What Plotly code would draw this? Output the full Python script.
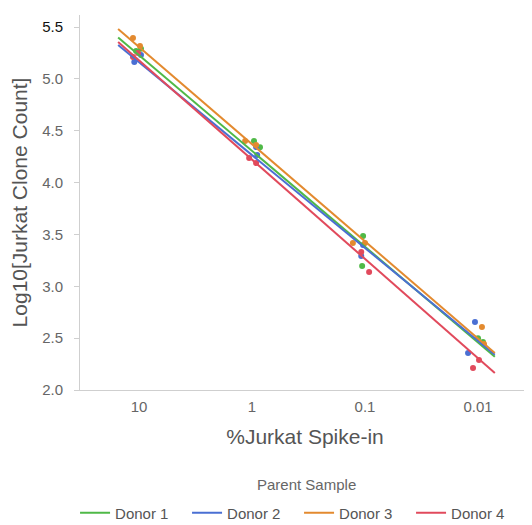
import plotly.graph_objects as go

# ---- data ----
donors = ["Donor 1", "Donor 2", "Donor 3", "Donor 4"]
colors = ["#4fb947", "#4a6fd3", "#e38a2f", "#e14a5c"]

# jittered spike-in % (x) and log10 clone counts (y) per donor
d1_x = [9.6, 10.6, 0.96, 0.85, 0.104, 0.106, 0.00904, 0.0100]
d1_y = [5.29, 5.27, 4.40, 4.34, 3.485, 3.196, 2.463, 2.50]
d2_x = [9.6, 11.0, 0.92, 0.90, 0.104, 0.108, 0.01064, 0.01225]
d2_y = [5.23, 5.163, 4.343, 4.266, 3.398, 3.292, 2.656, 2.357]
d3_x = [11.3, 9.8, 1.15, 0.92, 0.128, 0.100, 0.00923, 0.00885]
d3_y = [5.394, 5.317, 4.401, 4.363, 3.418, 3.418, 2.608, 2.444]
d4_x = [11.3, 10.2, 0.92, 1.06, 0.108, 0.092, 0.01107, 0.0098]
d4_y = [5.21, 5.25, 4.189, 4.237, 3.331, 3.138, 2.212, 2.289]

# regression line ends for each donor
fit_x = [15.3, 0.0071]
d1_fit = [5.40, 2.32]
d2_fit = [5.327, 2.34]
d3_fit = [5.48, 2.357]
d4_fit = [5.356, 2.164]

y_tickvals = [2.0, 2.5, 3.0, 3.5, 4.0, 4.5, 5.0, 5.5]
y_ticktext = ["2.0", "2.5", "3.0", "3.5", "4.0", "4.5", "5.0",
              "<span style='color:#111'>5.5</span>"]
x_tickvals = [10, 1, 0.1, 0.01]
x_ticktext = ["10", "1", "0.1", "0.01"]
legend_title = "Parent Sample"

xs = [d1_x, d2_x, d3_x, d4_x]
ys = [d1_y, d2_y, d3_y, d4_y]
fits = [d1_fit, d2_fit, d3_fit, d4_fit]

fig = go.Figure()
for name, c, x, y in zip(donors, colors, xs, ys):
    fig.add_trace(go.Scatter(x=x, y=y, mode="markers", name=name,
                             legendgroup=name, showlegend=False,
                             marker=dict(color=c, size=6)))
for name, c, f in zip(donors, colors, fits):
    fig.add_trace(go.Scatter(x=fit_x, y=f, mode="lines", name=name,
                             legendgroup=name, showlegend=True,
                             line=dict(color=c, width=2)))

font = "Liberation Sans, Arial, sans-serif"
# page body has an 8px margin, so the figure is 8px smaller each way
fig.update_layout(
    width=524, height=517,
    margin=dict(l=72, r=2, t=7, b=135, autoexpand=False),
    paper_bgcolor="white", plot_bgcolor="white",
    font=dict(family=font, color="#666", size=15),
    xaxis=dict(type="log", range=[1.522, -2.46],
               tickvals=x_tickvals, ticktext=x_ticktext,
               showgrid=False, zeroline=False,
               showline=True, linecolor="#cfcfcf", linewidth=1,
               ticks="", ticklabelstandoff=3,
               tickfont=dict(size=15, color="#666"),
               title=dict(text="%Jurkat Spike-in", font=dict(size=21, color="#555"),
                          standoff=15)),
    yaxis=dict(range=[2.0, 5.616],
               tickvals=y_tickvals, ticktext=y_ticktext,
               showgrid=False, zeroline=False,
               showline=True, linecolor="#cfcfcf", linewidth=1,
               ticks="outside", ticklen=5, tickcolor="#cfcfcf",
               ticklabelstandoff=8,
               tickfont=dict(size=15, color="#666"),
               title=dict(text="Log10[Jurkat Clone Count]",
                          font=dict(size=21, color="#555"), standoff=10)),
    legend=dict(orientation="h", x=-0.011, xanchor="left",
                y=(390 - 513) / 375, yanchor="middle",
                font=dict(size=15, color="#555"),
                entrywidth=67, entrywidthmode="pixels"),
    annotations=[dict(text=legend_title, xref="paper", yref="paper",
                      x=0.503, y=(390 - 484) / 375, xanchor="center",
                      yanchor="middle", showarrow=False,
                      font=dict(size=15, color="#666"))],
)

fig.write_html("out.html")
